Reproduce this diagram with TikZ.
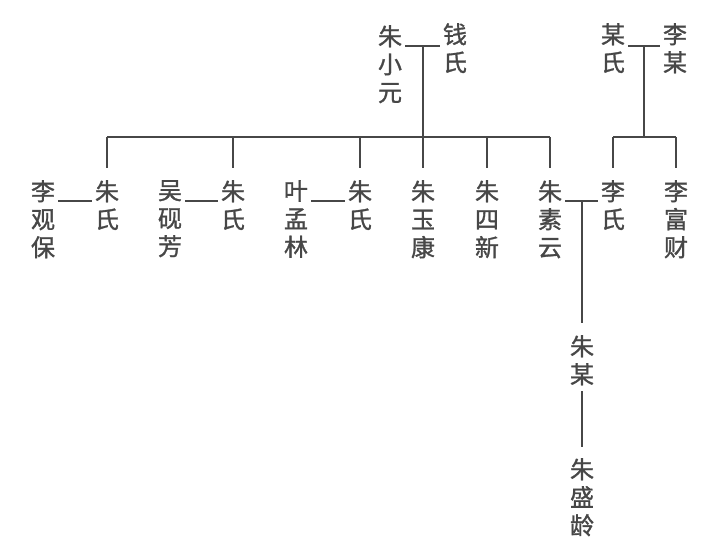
\documentclass[tikz,border=0pt]{standalone}
\usepackage{fontspec}
\newfontfamily\cjk[FakeBold=1.2]{Noto Sans CJK SC}
\usetikzlibrary{calc}
\definecolor{ink}{HTML}{474747}
\tikzset{
  person/.style={anchor=north, align=center, inner xsep=3pt, inner ysep=0pt,
    text=ink, font=\cjk\fontsize{24}{28}\selectfont},
  tie/.style={draw=ink, line width=1.3pt}
}
\begin{document}
\begin{tikzpicture}[x=1pt,y=-1pt]
\useasboundingbox (0,0) rectangle (718,551);
% first generation
\node[person] (xiaoyuan) at (390,25) {朱\\小\\元};
\node[person] (qianshi) at (455,23) {钱\\氏};
\node[person] (moushi) at (613,23) {某\\氏};
\node[person] (limou) at (675,23) {李\\某};
% second generation
\node[person] (liguanbao) at (43,180) {李\\观\\保};
\node[person] (zhushiA) at (107,180) {朱\\氏};
\node[person] (wuyanfang) at (170,180) {吴\\砚\\芳};
\node[person] (zhushiB) at (233,180) {朱\\氏};
\node[person] (yemenglin) at (296,180) {叶\\孟\\林};
\node[person] (zhushiC) at (360,180) {朱\\氏};
\node[person] (yukang) at (423,180) {朱\\玉\\康};
\node[person] (sixin) at (487,180) {朱\\四\\新};
\node[person] (suyun) at (550,180) {朱\\素\\云};
\node[person] (lishi) at (613,180) {李\\氏};
\node[person] (fucai) at (676,180) {李\\富\\财};
% third and fourth generation
\node[person] (zhumou) at (582,335) {朱\\某};
\node[person] (shengling) at (582,458) {朱\\盛\\龄};
% marriages
\coordinate (mZhu) at (423,46);
\coordinate (mLi) at (644,46);
\coordinate (mSu) at (582,201);
\draw[tie] (xiaoyuan.east |- mZhu) -- (qianshi.west |- mZhu);
\draw[tie] (moushi.east |- mLi) -- (limou.west |- mLi);
\foreach \a/\b in {liguanbao/zhushiA,wuyanfang/zhushiB,yemenglin/zhushiC,suyun/lishi}
  \draw[tie] ([yshift=-21pt]\a.north east) -- ([yshift=-21pt]\b.north west);
% children
\coordinate (zbar) at (423,137);
\draw[tie] (mZhu) -- (mZhu |- zbar);
\draw[tie] (zbar -| zhushiA.north) -- (zbar -| suyun.north);
\foreach \c in {zhushiA,zhushiB,zhushiC,yukang,sixin,suyun}
  \draw[tie] (zbar -| \c.north) -- ([yshift=12pt]\c.north);
\draw[tie] (mLi) -- (mLi |- zbar);
\draw[tie] (zbar -| lishi.north) -- (zbar -| fucai.north);
\foreach \c in {lishi,fucai}
  \draw[tie] (zbar -| \c.north) -- ([yshift=12pt]\c.north);
\draw[tie] (mSu) -- ([yshift=12pt]zhumou.north);
\draw[tie] ([yshift=-6pt]zhumou.south) -- ([yshift=11pt]shengling.north);
\end{tikzpicture}
\end{document}
